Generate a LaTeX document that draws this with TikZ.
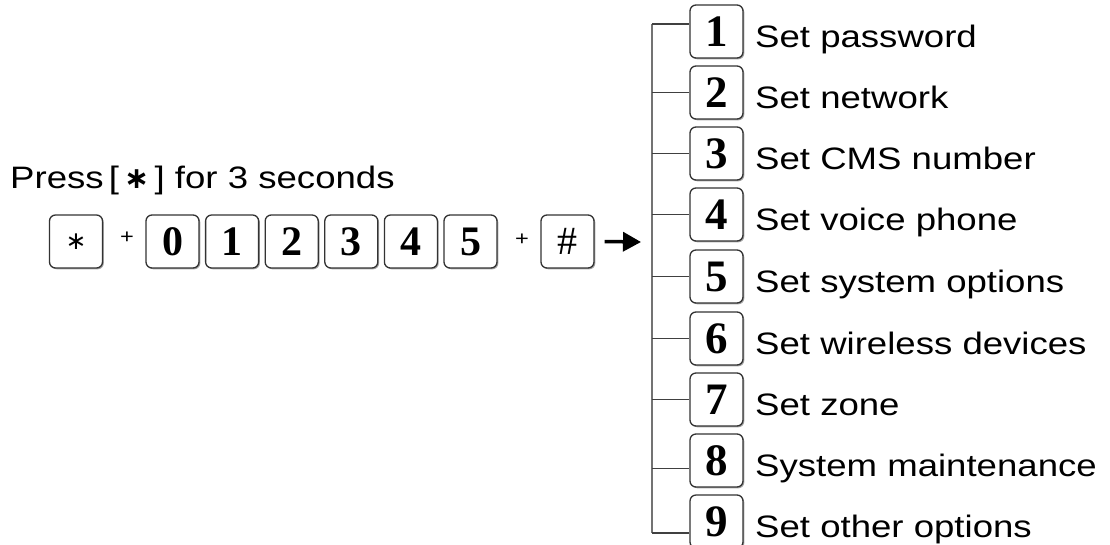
\documentclass[tikz,border=0pt]{standalone}
\usepackage{fontspec}
\usetikzlibrary{arrows.meta,shadows,calc}
\newfontfamily\labfont[FakeStretch=1.18]{Liberation Sans}
\newfontfamily\digfont{Liberation Serif}
\newfontfamily\symfont{DejaVu Sans}
\begin{document}
\begin{tikzpicture}[x=1pt,y=-1pt,
  keybox/.style={draw=black!80, line width=1.3pt, rounded corners=6pt, fill=white,
    minimum width=53pt, minimum height=53pt, inner sep=0pt,
    drop shadow={shadow xshift=1.3pt, shadow yshift=-1.3pt, opacity=0.35, fill=black}},
  listdig/.style={keybox, font=\digfont\bfseries\fontsize{45}{45}\selectfont},
  rowdig/.style={keybox, minimum height=53pt, font=\digfont\bfseries\fontsize{42}{42}\selectfont},
  lab/.style={anchor=base west, inner sep=0pt, font=\labfont\fontsize{31}{31}\selectfont},
  plus/.style={inner sep=0pt, font=\labfont\fontsize{20}{20}\selectfont},
  branch/.style={draw=black!75, line width=1.2pt},
  trunk/.style={draw=black!55, line width=1.3pt}]
\useasboundingbox (0,0) rectangle (1110,544);
% Top caption
\node[lab] (press) at (10,188) {Press\,{\fontsize{31}{31}\selectfont[}\,{\symfont\fontsize{30}{30}\selectfont\bfseries ∗}\,]\,\,for 3 seconds};
% Row of keys
\node[rowdig] (kstar) at (76,241.5) {};
\node[inner sep=0pt, font=\symfont\fontsize{25}{25}\selectfont] (star) at (76,241.5) {∗};
\node[plus] (p1) at (127,238) {+};
\foreach \d [count=\i from 0] in {0,1,2,3,4,5} {
  \node[rowdig] (r\d) at ({172.5+59.6*\i},241.5) {\d};
}
\node[plus] (p2) at (522,240) {+};
\node[rowdig, font=\digfont\fontsize{40}{40}\selectfont] (hash) at (567.5,241.5) {\#};
\coordinate (tip) at (641,242);
\draw[line width=3.5pt, -{Triangle[length=18pt,width=19pt]}] ([xshift=10pt]hash.east) -- (tip);
% Tree
\coordinate (ttop) at (652,24);
\coordinate (tbot) at (652,533);
\draw[trunk] (ttop) -- (tbot);
\foreach \d/\t/\txt in {1/5/Set password, 2/66/Set network, 3/127/Set CMS number,
  4/188/Set voice phone, 5/250/Set system options, 6/312/Set wireless devices,
  7/373/Set zone, 8/434/System maintenance, 9/495/Set other options} {
  \node[listdig] (m\d) at (716.5,\t+26.5) {\d};
  \node[lab] (l\d) at (755,\t+42.5) {\txt};
}
\draw[branch] (ttop) -- (ttop -| m1.west);
\foreach \d in {2,3,4,5,6,7} {
  \draw[branch] (ttop |- m\d.west) -- (m\d.west);
}
\draw[branch] ($(ttop |- m8.west)+(0,8)$) -- ($(m8.west)+(0,8)$);
\draw[branch] (tbot) -- (tbot -| m9.west);
\end{tikzpicture}
\end{document}
